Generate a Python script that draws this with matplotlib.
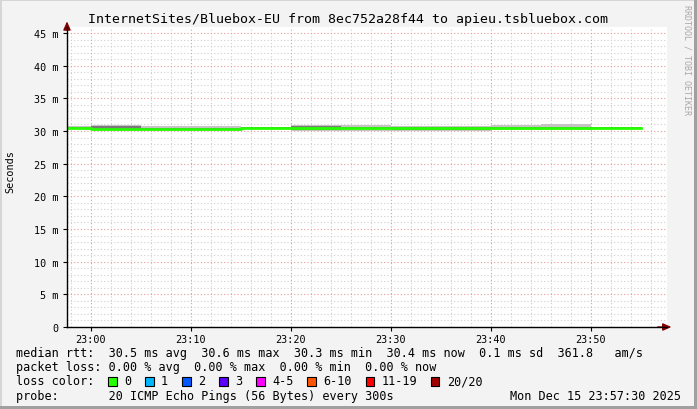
import matplotlib
matplotlib.use("Agg")
import matplotlib.pyplot as plt
from matplotlib.patches import Rectangle

# smokeping style graph, values in ms (axis labels use "m" suffix)
seg_start = [-5, 0, 5, 10, 15, 20, 25, 30, 35, 40, 45, 50]   # minutes after 23:00
seg_end = 55
median = [30.52, 30.33, 30.33, 30.33, 30.52, 30.52, 30.52, 30.48, 30.45, 30.50, 30.50, 30.52]
smoke_lo = [30.40, 30.00, 30.05, 30.05, 30.35, 29.95, 30.00, 30.05, 30.05, 30.10, 30.10, 30.30]
smoke_hi = [30.70, 30.85, 30.80, 30.80, 30.65, 30.85, 30.95, 30.75, 30.70, 30.90, 31.10, 30.65]
inner_lo = [30.45, 30.10, 30.20, 30.20, 30.45, 30.20, 30.35, 30.20, 30.20, 30.35, 30.35, 30.45]
inner_hi = [30.60, 30.70, 30.45, 30.45, 30.60, 30.70, 30.65, 30.60, 30.55, 30.60, 30.60, 30.60]

x_ticks = [0, 10, 20, 30, 40, 50]
x_labels = ["23:00", "23:10", "23:20", "23:30", "23:40", "23:50"]
y_ticks = [0, 5, 10, 15, 20, 25, 30, 35, 40, 45]

title = "InternetSites/Bluebox-EU from 8ec752a28f44 to apieu.tsbluebox.com"
line_rtt = "median rtt:  30.5 ms avg  30.6 ms max  30.3 ms min  30.4 ms now  0.1 ms sd  361.8   am/s"
line_loss = "packet loss: 0.00 % avg  0.00 % max  0.00 % min  0.00 % now"
loss_labels = ["0", "1", "2", "3", "4-5", "6-10", "11-19", "20/20"]
loss_colors = ["#26ff00", "#00b8ff", "#0059ff", "#5e00ff", "#ff00ff", "#ff5500", "#ff0000", "#a00000"]
line_probe = "probe:       20 ICMP Echo Pings (56 Bytes) every 300s"
stamp = "Mon Dec 15 23:57:30 2025"

W, H = 697, 410
MONO = "DejaVu Sans Mono"


def fx(x):
    return x / W


def fy(y):
    return 1 - y / H


fig = plt.figure(figsize=(W / 100, H / 100), dpi=100)
fig.patch.set_facecolor("#f3f3f3")

# 3d-ish frame of the rrdtool canvas
fig.add_artist(Rectangle((0, 0), fx(2), 1, transform=fig.transFigure, color="#d6d6d6", lw=0))
fig.add_artist(Rectangle((0, fy(2)), 1, 2 / H, transform=fig.transFigure, color="#d6d6d6", lw=0))
fig.add_artist(Rectangle((fx(694), 0), fx(3), 1, transform=fig.transFigure, color="#a0a0a0", lw=0))
fig.add_artist(Rectangle((0, 0), 1, 3 / H, transform=fig.transFigure, color="#a0a0a0", lw=0))

ax = fig.add_axes([fx(67), fy(328), 600 / W, 300 / H])
ax.set_facecolor("white")
ax.set_xlim(-2.4, 57.6)
ax.set_ylim(0, 300 / 6.533)

# grid
for m in range(-2, 58, 2):
    if m % 10 != 0:
        ax.axvline(m, color="#cfcfcf", lw=0.8, ls=(0, (1, 2)), zorder=0)
for m in range(1, 46):
    if m % 5 != 0:
        ax.axhline(m, color="#cfcfcf", lw=0.8, ls=(0, (1, 2)), zorder=0)
for m in x_ticks:
    ax.axvline(m, color="#e89a9a", lw=0.8, ls=(0, (1, 2)), zorder=0)
for v in y_ticks[1:]:
    ax.axhline(v, color="#e89a9a", lw=0.8, ls=(0, (1, 2)), zorder=0)

edges = seg_start + [seg_end]
ax.fill_between(edges, smoke_lo + [smoke_lo[-1]], smoke_hi + [smoke_hi[-1]],
                step="post", color="#c4c4c4", lw=0, zorder=2)
ax.fill_between(edges, inner_lo + [inner_lo[-1]], inner_hi + [inner_hi[-1]],
                step="post", color="#7a7a7a", lw=0, zorder=3)
ax.step(edges, median + [median[-1]], where="post", color=loss_colors[0], lw=2.0, zorder=4)

for s in ["top", "right"]:
    ax.spines[s].set_visible(False)
ax.spines["left"].set_linewidth(1.0)
ax.spines["bottom"].set_linewidth(1.0)
ax.spines["left"].set_zorder(5)
ax.spines["bottom"].set_zorder(5)

# axis arrows
ax.annotate("", xy=(0, 1.028), xytext=(0, 0.98), xycoords="axes fraction",
            arrowprops=dict(arrowstyle="-|>,head_length=0.5,head_width=0.22", color="#800000", lw=1))
ax.annotate("", xy=(1.012, 0), xytext=(0.98, 0), xycoords="axes fraction",
            arrowprops=dict(arrowstyle="-|>,head_length=0.5,head_width=0.22", color="#800000", lw=1))

ax.set_xticks(x_ticks)
ax.set_xticklabels(x_labels, family=MONO, fontsize=7.3)
ax.set_yticks(y_ticks)
ax.set_yticklabels([("%d m" % v) if v else "0" for v in y_ticks], family=MONO, fontsize=7.3)
ax.tick_params(length=3, width=0.8, pad=3, colors="black")
ax.tick_params(axis="x", pad=2)

fig.text(fx(10), fy(172), "Seconds", rotation=90, ha="center", va="center", family=MONO, fontsize=7.3)
fig.text(fx(348), fy(19), title, ha="center", va="center", family=MONO, fontsize=9.5)
fig.text(fx(687), fy(5), "RRDTOOL / TOBI OETIKER", rotation=270, ha="center", va="top",
         family=MONO, fontsize=6, color="#a8a8a8")

fig.text(fx(16), fy(354), line_rtt, ha="left", va="center", family=MONO, fontsize=8.5)
fig.text(fx(16), fy(368), line_loss, ha="left", va="center", family=MONO, fontsize=8.5)
fig.text(fx(16), fy(382), "loss color:", ha="left", va="center", family=MONO, fontsize=8.5)
fig.text(fx(16), fy(396.5), line_probe, ha="left", va="center", family=MONO, fontsize=8.5)
fig.text(fx(681), fy(396.5), stamp, ha="right", va="center", family=MONO, fontsize=8.5)

bx = 108
for lab, col in zip(loss_labels, loss_colors):
    fig.add_artist(Rectangle((fx(bx), fy(386.5)), 8.5 / W, 8.5 / H, transform=fig.transFigure,
                             facecolor=col, edgecolor="black", lw=0.8))
    fig.text(fx(bx + 16), fy(382), lab, ha="left", va="center", family=MONO, fontsize=8.5)
    bx += 37 + (len(lab) - 1) * 7.1

fig.savefig("out.png", dpi=100, facecolor=fig.get_facecolor())
